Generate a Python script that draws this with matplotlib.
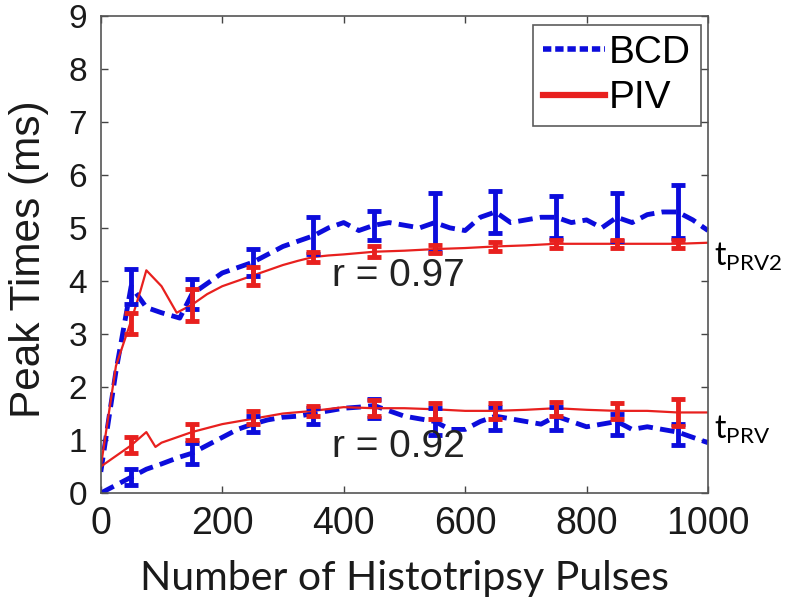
import matplotlib
matplotlib.use("Agg")
import matplotlib.pyplot as plt
from matplotlib.lines import Line2D

# ---- data ----
bcd_up_x = [0, 25, 50, 75, 100, 130, 150, 175, 200, 225, 250, 275, 300, 325, 350, 375, 400, 425, 450, 475,
            500, 525, 550, 575, 600, 625, 650, 675, 700, 725, 750, 775, 800, 825, 850, 875, 900, 925, 950, 975, 1000]
bcd_up_y = [0.4, 2.3, 3.9, 3.5, 3.4, 3.3, 3.75, 3.95, 4.15, 4.25, 4.35, 4.5, 4.65, 4.75, 4.85, 5.0, 5.1, 4.95, 5.05, 5.1,
            5.05, 5.0, 5.1, 5.0, 4.95, 5.2, 5.3, 5.1, 5.15, 5.2, 5.2, 5.1, 5.15, 5.0, 5.2, 5.1, 5.25, 5.3, 5.3, 5.15, 4.95]

piv_up_x = [0, 25, 50, 65, 75, 100, 125, 150, 175, 200, 225, 250, 275, 300, 325, 350, 375, 400, 450, 500,
            550, 600, 650, 700, 750, 800, 850, 900, 950, 1000]
piv_up_y = [0.5, 2.4, 3.25, 3.8, 4.2, 3.9, 3.4, 3.55, 3.75, 3.9, 4.0, 4.1, 4.2, 4.3, 4.38, 4.45, 4.48, 4.5, 4.55, 4.57,
            4.6, 4.62, 4.65, 4.67, 4.7, 4.7, 4.7, 4.7, 4.7, 4.72]

bcd_lo_x = bcd_up_x
bcd_lo_y = [0.0, 0.15, 0.3, 0.45, 0.55, 0.68, 0.75, 0.9, 1.05, 1.2, 1.3, 1.38, 1.43, 1.45, 1.5, 1.55, 1.6, 1.62, 1.65, 1.55,
            1.45, 1.4, 1.35, 1.2, 1.2, 1.35, 1.45, 1.4, 1.35, 1.3, 1.45, 1.35, 1.25, 1.3, 1.35, 1.2, 1.25, 1.2, 1.15, 1.05, 0.95]

piv_lo_x = [0, 25, 50, 75, 90, 100, 125, 150, 200, 250, 300, 350, 400, 450, 500, 550, 600, 650, 700, 750,
            800, 850, 900, 950, 1000]
piv_lo_y = [0.5, 0.7, 0.9, 1.15, 0.87, 0.95, 1.05, 1.15, 1.3, 1.4, 1.5, 1.55, 1.62, 1.6, 1.6, 1.58, 1.55, 1.55, 1.57, 1.6,
            1.57, 1.55, 1.55, 1.52, 1.52]

err_x = [50, 150, 250, 350, 450, 550, 650, 750, 850, 950]
bcd_up_err_y = [3.9, 3.75, 4.35, 4.85, 5.05, 5.1, 5.3, 5.2, 5.2, 5.3]
bcd_up_err = [0.33, 0.28, 0.25, 0.35, 0.27, 0.55, 0.4, 0.4, 0.45, 0.5]
piv_up_err_y = [3.2, 3.55, 4.1, 4.45, 4.55, 4.6, 4.65, 4.7, 4.7, 4.7]
piv_up_err = [0.2, 0.3, 0.17, 0.1, 0.1, 0.08, 0.08, 0.07, 0.07, 0.07]
bcd_lo_err_y = [0.3, 0.75, 1.3, 1.45, 1.6, 1.35, 1.4, 1.4, 1.3, 1.1]
bcd_lo_err = [0.15, 0.2, 0.15, 0.15, 0.18, 0.25, 0.22, 0.22, 0.2, 0.2]
piv_lo_err_y = [0.9, 1.15, 1.42, 1.55, 1.6, 1.55, 1.55, 1.58, 1.55, 1.52]
piv_lo_err = [0.15, 0.15, 0.12, 0.1, 0.15, 0.15, 0.15, 0.13, 0.15, 0.25]

x_ticks = [0, 200, 400, 600, 800, 1000]
y_ticks = [0, 1, 2, 3, 4, 5, 6, 7, 8, 9]

BLUE = "#0c0cdc"
RED = "#e8201e"
ARIAL = ["Liberation Sans", "DejaVu Sans"]
CALIBRI = ["Lato", "DejaVu Sans"]
INK = "#1a1a1a"

fig = plt.figure(figsize=(8, 6.05), dpi=100)
ax = fig.add_axes([0.126, 0.185, 0.759, 0.789])

dash = dict(color=BLUE, lw=3.5, ls=(0, (3.0, 1.5)))
ax.plot(bcd_up_x, bcd_up_y, **dash)
ax.plot(bcd_lo_x, bcd_lo_y, **dash)
ax.plot(piv_up_x, piv_up_y, color=RED, lw=1.6)
ax.plot(piv_lo_x, piv_lo_y, color=RED, lw=1.6)

eb = dict(fmt="none", elinewidth=3.5, capsize=5, capthick=3.5)
ax.errorbar(err_x, bcd_up_err_y, yerr=bcd_up_err, ecolor=BLUE, **eb)
ax.errorbar(err_x, bcd_lo_err_y, yerr=bcd_lo_err, ecolor=BLUE, **eb)
ax.errorbar(err_x, piv_up_err_y, yerr=piv_up_err, ecolor=RED, **eb)
ax.errorbar(err_x, piv_lo_err_y, yerr=piv_lo_err, ecolor=RED, **eb)

ax.set_xlim(0, 1000)
ax.set_ylim(0, 9)
ax.set_xticks(x_ticks)
ax.set_yticks(y_ticks)
ax.tick_params(direction="in", length=5, width=1, top=True, right=True, color="#444444",
               labelcolor=INK)
ax.tick_params(axis="x", labelsize=27, pad=9)
ax.tick_params(axis="y", labelsize=24, pad=10)
for lab in ax.get_xticklabels() + ax.get_yticklabels():
    lab.set_family(ARIAL)
for s in ax.spines.values():
    s.set_color("#555555")
    s.set_linewidth(1.2)

ax.set_ylabel("Peak Times (ms)", fontsize=30.5, family=ARIAL, color=INK)
ax.yaxis.label.set_va("center")
ax.yaxis.set_label_coords(-0.119, 0.49)
ax.set_xlabel("Number of Histotripsy Pulses", fontsize=29.5, family=CALIBRI, color=INK)
ax.xaxis.label.set_va("center")
ax.xaxis.set_label_coords(0.50, -0.178)

ax.text(380, 4.1, "r = 0.97", fontsize=28, family=ARIAL, va="center", ha="left", color="#222222")
ax.text(380, 0.87, "r = 0.92", fontsize=28, family=ARIAL, va="center", ha="left", color="#222222")
ax.text(1010, 4.45, r"t$_{\mathregular{PRV2}}$", fontsize=23, family=CALIBRI, va="center", ha="left",
        clip_on=False)
ax.text(1010, 1.2, r"t$_{\mathregular{PRV}}$", fontsize=23, family=CALIBRI, va="center", ha="left",
        clip_on=False)

handles = [Line2D([], [], color=BLUE, lw=4, ls=(0, (1.5, 0.7))),
           Line2D([], [], color=RED, lw=4.5)]
leg = ax.legend(handles, ["BCD", "PIV"], loc="upper right", bbox_to_anchor=(0.988, 0.981),
                prop={"family": ARIAL, "size": 28},
                frameon=True, fancybox=False, edgecolor="#333333", handlelength=1.6,
                handletextpad=0.1, borderpad=0.25, labelspacing=0.25, borderaxespad=0.0)
leg.get_frame().set_linewidth(1.2)

fig.savefig("out.png", dpi=100)
